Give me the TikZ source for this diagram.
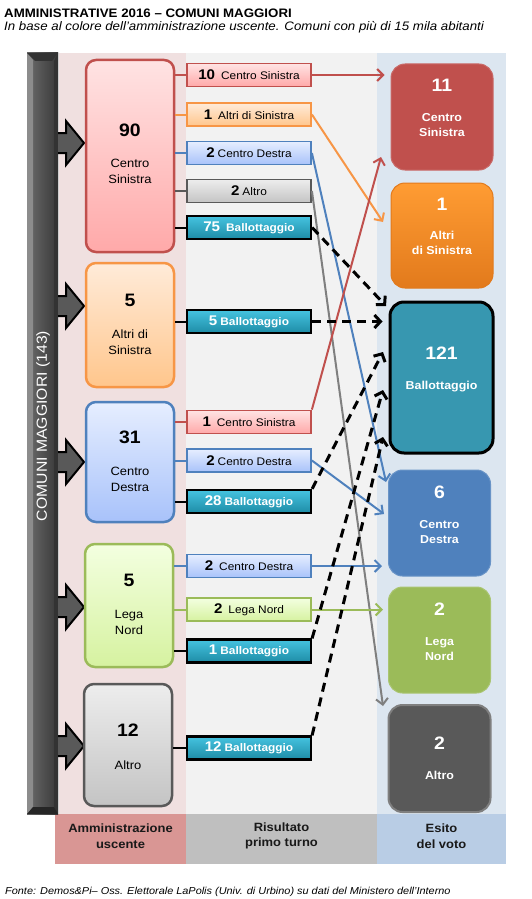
\documentclass[tikz,border=0pt]{standalone}
\usepackage{fontspec}
\setmainfont{Liberation Sans}[FakeStretch=1.08]
\usetikzlibrary{arrows.meta,calc}
\definecolor{cs}{HTML}{C0504D}
\definecolor{csA}{HTML}{FFE3E3}
\definecolor{csB}{HTML}{FFA9A9}
\definecolor{as}{HTML}{F79646}
\definecolor{asA}{HTML}{FFEBD9}
\definecolor{asB}{HTML}{FFC68C}
\definecolor{cd}{HTML}{4F81BD}
\definecolor{cdA}{HTML}{E6EEFF}
\definecolor{cdB}{HTML}{A8C2FA}
\definecolor{ln}{HTML}{9BBB59}
\definecolor{lnA}{HTML}{F3FFE0}
\definecolor{lnB}{HTML}{D6F2A0}
\definecolor{al}{HTML}{595959}
\definecolor{alA}{HTML}{EDEDED}
\definecolor{alB}{HTML}{C4C4C4}
\definecolor{teA}{HTML}{45C3E0}
\definecolor{teB}{HTML}{1E8CA6}
\definecolor{rteal}{HTML}{3797B0}
\definecolor{orA}{HTML}{FF9C33}
\definecolor{orB}{HTML}{E27A1C}
\definecolor{grayline}{HTML}{7F7F7F}
\definecolor{bgpink}{HTML}{F0E0E0}
\definecolor{bggray}{HTML}{F2F2F2}
\definecolor{bgblue}{HTML}{DCE6F0}
\definecolor{stpink}{HTML}{D99694}
\definecolor{stgray}{HTML}{BFBFBF}
\definecolor{stblue}{HTML}{B9CDE5}
\definecolor{arrgray}{HTML}{595959}
\begin{document}
\begin{tikzpicture}[x=1pt,y=-1pt,
  lbox/.style={draw, line width=2.5pt, rounded corners=10pt, minimum width=88pt, inner sep=0pt},
  numL/.style={inner sep=0pt, font=\bfseries\fontsize{18}{18}\selectfont},
  nameL/.style={inner sep=0pt, align=center, font=\fontsize{12}{16}\selectfont},
  numR/.style={inner sep=0pt, text=white, font=\bfseries\fontsize{18}{18}\selectfont},
  nameR/.style={inner sep=0pt, align=center, text=white, font=\bfseries\fontsize{11.5}{15}\selectfont},
  rbox/.style={rounded corners=14pt, minimum width=102pt, inner sep=0pt},
  mlab/.style={draw, line width=1.8pt, minimum width=124pt, minimum height=23pt, inner sep=0pt, font=\fontsize{11}{13}\selectfont},
  mcs/.style={mlab, draw=cs, top color=csA, bottom color=csB},
  mas/.style={mlab, draw=as, top color=asA, bottom color=asB},
  mcd/.style={mlab, draw=cd, top color=cdA, bottom color=cdB},
  mal/.style={mlab, draw=al, top color=alA, bottom color=alB},
  mln/.style={mlab, draw=ln, top color=lnA, bottom color=lnB},
  mba/.style={mlab, draw=black, line width=2.2pt, top color=teA, bottom color=teB, text=white, font=\bfseries\fontsize{11}{13}\selectfont},
  link/.style={line width=2pt},
  carrow/.style={line width=2pt, -{Straight Barb[length=6pt,width=12pt]}},
  darrow/.style={line width=3pt, dash pattern=on 9pt off 6pt, -{Straight Barb[length=6pt,width=13pt]}},
  blockarr/.style={draw=black, fill=arrgray, line width=2pt, line join=miter},
  striptext/.style={inner sep=0pt, align=center, text=black!90, font=\bfseries\fontsize{12}{15.5}\selectfont}
]
\useasboundingbox (0,0) rectangle (531,899);
\fill[white] (0,0) rectangle (531,899);

% title
\node[anchor=base west, inner sep=0pt, font=\bfseries\fontsize{12.3}{13}\selectfont] (title) at (4,17.5) {AMMINISTRATIVE 2016 – COMUNI MAGGIORI};
\node[anchor=base west, inner sep=0pt, font=\itshape\fontsize{12.3}{13}\selectfont] (subtitle) at (4,30.5) {In base al colore dell’amministrazione uscente. Comuni con più di 15 mila abitanti};

% column backgrounds
\fill[bgpink] (59,53) rectangle (186,814);
\fill[bggray] (186,53) rectangle (377,814);
\fill[bgblue] (377,53) rectangle (506,814);
\fill[stpink] (55,814) rectangle (186,864);
\fill[stgray] (186,814) rectangle (377,864);
\fill[stblue] (377,814) rectangle (506,864);
\node[striptext] (h1) at (120.5,836) {Amministrazione\\uscente};
\node[striptext] (h2) at (281.5,836) {Risultato\\primo turno};
\node[striptext] (h3) at (441.5,836) {Esito\\del voto};

% left bar (bevelled)
\shade[left color=black!58, right color=black!78] (27,53) rectangle (58,814);
\fill[black!45] (27,53) -- (33,60) -- (33,807) -- (27,814) -- cycle;
\fill[black!80] (27,53) -- (58,53) -- (52,61) -- (35,61) -- cycle;
\fill[black!80] (58,53) -- (58,814) -- (54,807) -- (54,61) -- cycle;
\fill[black!85] (27,814) -- (58,814) -- (54,807) -- (33,807) -- cycle;
\node[rotate=90, inner sep=0pt, text=white, font=\fontsize{14.6}{15}\selectfont] (bartext) at (43,426) {COMUNI MAGGIORI (143)};

% block arrows
\foreach \yy in {143,306,462,607,746}{
  \draw[blockarr] (58,\yy-10) -- (66,\yy-10) -- (66,\yy-22) -- (84,\yy) -- (66,\yy+22) -- (66,\yy+10) -- (58,\yy+10);
}

% left boxes
\node[lbox, draw=cs, top color=csA, bottom color=csB, minimum height=192pt] (L1) at (130,156) {};
\node[numL] (L1n) at (130,130) {90};
\node[nameL] (L1t) at (130,171) {Centro\\Sinistra};
\node[lbox, draw=as, top color=asA, bottom color=asB, minimum height=124pt] (L2) at (130,325) {};
\node[numL] (L2n) at (130,300) {5};
\node[nameL] (L2t) at (130,342) {Altri di\\Sinistra};
\node[lbox, draw=cd, top color=cdA, bottom color=cdB, minimum height=120pt] (L3) at (130,462) {};
\node[numL] (L3n) at (130,437) {31};
\node[nameL] (L3t) at (130,479) {Centro\\Destra};
\node[lbox, draw=ln, top color=lnA, bottom color=lnB, minimum height=123pt] (L4) at (129,605.5) {};
\node[numL] (L4n) at (129,580) {5};
\node[nameL] (L4t) at (129,622.5) {Lega\\Nord};
\node[lbox, draw=al, top color=alA, bottom color=alB, minimum height=122pt] (L5) at (128,745) {};
\node[numL] (L5n) at (128,730) {12};
\node[nameL] (L5t) at (128,765) {Altro};

% middle labels
\newcommand{\mnum}[1]{{\bfseries\fontsize{14}{14}\selectfont #1}}
\node[mcs] (M1) at (249,75) {\mnum{10}\hspace{6pt}Centro Sinistra};
\node[mas] (M2) at (249,114.5) {\mnum{1}\hspace{6pt}Altri di Sinistra};
\node[mcd] (M3) at (249,153) {\mnum{2}\hspace{3pt}Centro Destra};
\node[mal] (M4) at (249,191) {\mnum{2}\hspace{3pt}Altro};
\node[mba] (M5) at (249,227.5) {\mnum{75}\hspace{6pt}Ballottaggio};
\node[mba] (M6) at (249,321.5) {\mnum{5}\hspace{3pt}Ballottaggio};
\node[mcs] (M7) at (249,422) {\mnum{1}\hspace{6pt}Centro Sinistra};
\node[mcd] (M8) at (249,460.5) {\mnum{2}\hspace{3pt}Centro Destra};
\node[mba] (M9) at (249,501.5) {\mnum{28}\hspace{3pt}Ballottaggio};
\node[mcd] (M10) at (249,566) {\mnum{2}\hspace{6pt}Centro Destra};
\node[mln] (M11) at (249,609.5) {\mnum{2}\hspace{6pt}Lega Nord};
\node[mba] (M12) at (249,651) {\mnum{1}\hspace{3pt}Ballottaggio};
\node[mba] (M13) at (249,748) {\mnum{12}\hspace{3pt}Ballottaggio};

% links left -> middle
\draw[link, cs] (L1.east |- M1.west) -- (M1.west);
\draw[link, as] (L1.east |- M2.west) -- (M2.west);
\draw[link, cd] (L1.east |- M3.west) -- (M3.west);
\draw[link, al] (L1.east |- M4.west) -- (M4.west);
\draw[link, black] (L1.east |- M5.west) -- (M5.west);
\draw[link, black] (L2.east |- M6.west) -- (M6.west);
\draw[link, cs] (L3.east |- M7.west) -- (M7.west);
\draw[link, cd] (L3.east |- M8.west) -- (M8.west);
\draw[link, black] (L3.east |- M9.west) -- (M9.west);
\draw[link, cd] (L4.east |- M10.west) -- (M10.west);
\draw[link, ln] (L4.east |- M11.west) -- (M11.west);
\draw[link, black] (L4.east |- M12.west) -- (M12.west);
\draw[link, black] (L5.east |- M13.west) -- (M13.west);

% right boxes
\node[rbox, fill=cs, draw=cs!85!white, line width=1pt, minimum height=106pt] (R1) at (442,117) {};
\node[numR] (R1n) at (442,85) {11};
\node[nameR] (R1t) at (442,125.5) {Centro\\Sinistra};
\node[rbox, top color=orA, bottom color=orB, draw=orB, line width=1pt, minimum height=105pt] (R2) at (442,235.5) {};
\node[numR] (R2n) at (442,204) {1};
\node[nameR] (R2t) at (442,243) {Altri\\di Sinistra};
\node[rbox, fill=rteal, draw=black, line width=3pt, minimum height=151pt, minimum width=103pt] (R3) at (441.5,377.5) {};
\node[numR] (R3n) at (441.5,353) {121};
\node[nameR] (R3t) at (441.5,387) {Ballottaggio};
\node[rbox, fill=cd, draw=cd!85!white, line width=1pt, minimum height=106pt] (R4) at (439.5,523) {};
\node[numR] (R4n) at (439.5,492) {6};
\node[nameR] (R4t) at (439.5,532) {Centro\\Destra};
\node[rbox, fill=ln, draw=ln!85!white, line width=1pt, minimum height=106pt] (R5) at (439.5,640) {};
\node[numR] (R5n) at (439.5,609) {2};
\node[nameR] (R5t) at (439.5,649.5) {Lega\\Nord};
\node[rbox, fill=al, draw=grayline, line width=2pt, minimum height=107pt] (R6) at (439.5,758.5) {};
\node[numR] (R6n) at (439.5,743) {2};
\node[nameR] (R6t) at (439.5,775) {Altro};

% arrow end points
\coordinate (eAS) at (383,222);
\coordinate (eCD1) at (386,482);
\coordinate (eAL) at (383,706);
\coordinate (eCS2) at (381,157);
\coordinate (eCD2) at (384,514);
\coordinate (eB1) at (386,306);
\coordinate (eB3) at (383,352);
\coordinate (eB4) at (383,390);
\coordinate (eB5) at (383,437);

% coloured arrows
\draw[carrow, cs] (M1.east) -- ([xshift=-6pt]M1.east -| R1.west);
\draw[carrow, as] (M2.east) -- (eAS);
\draw[carrow, cd] (M3.east) -- (eCD1);
\draw[carrow, grayline] (M4.east) -- (eAL);
\draw[carrow, cs] (M7.north east) -- (eCS2);
\draw[carrow, cd] (M8.east) -- (eCD2);
\draw[carrow, cd] (M10.east) -- ([xshift=-6pt]M10.east -| R4.west);
\draw[carrow, ln] (M11.east) -- ([xshift=-5pt]M11.east -| R5.west);

% dashed arrows
\draw[darrow] (M5.east) -- (eB1);
\draw[darrow] (M6.east) -- ([xshift=-6pt]M6.east -| R3.west);
\draw[darrow] (M9.north east) -- (eB3);
\draw[darrow] (M12.north east) -- (eB4);
\draw[darrow] (M13.north east) -- (eB5);

% footer
\node[anchor=base west, inner sep=0pt, font=\itshape\fontsize{10.1}{11}\selectfont] (footer) at (5,894) {Fonte: Demos\&Pi– Oss. Elettorale LaPolis (Univ. di Urbino) su dati del Ministero dell’Interno};
\end{tikzpicture}
\end{document}
